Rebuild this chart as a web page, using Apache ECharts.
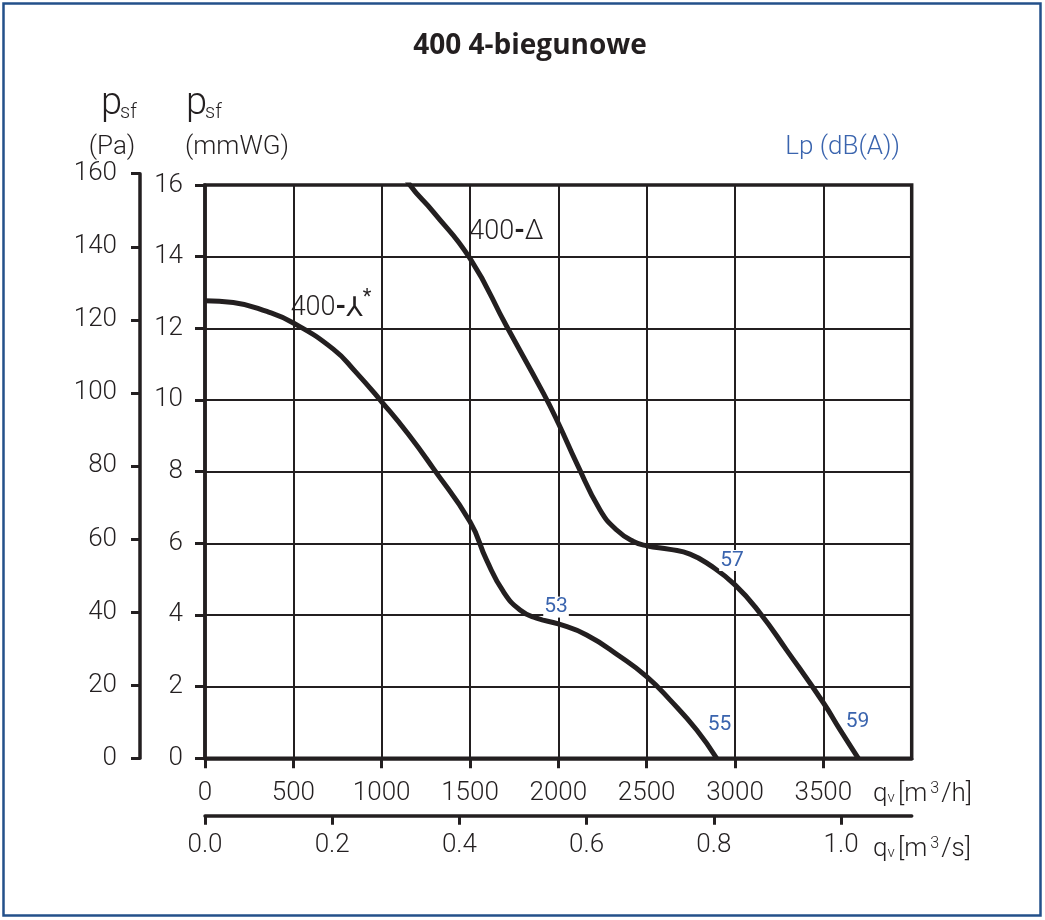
<!DOCTYPE html>
<html>
<head>
<meta charset="utf-8">
<script src="https://cdn.jsdelivr.net/npm/echarts@6/dist/echarts.min.js"></script>
<style>
html,body{margin:0;padding:0;background:#fff;}
#c{width:1045px;height:920px;}
</style>
</head>
<body>
<div id="c"></div>
<script>
// ---- data (q in m3/h, p in mmWG) ----
var starQ = [0, 160, 350, 500, 726, 850, 1000, 1150, 1292, 1500, 1594, 1689, 1783, 1877, 2000, 2160, 2349, 2500, 2632, 2783, 2896];
var starP = [12.77, 12.72, 12.47, 12.15, 11.42, 10.8, 9.95, 9.05, 8.09, 6.6, 5.53, 4.65, 4.14, 3.91, 3.75, 3.44, 2.84, 2.28, 1.63, 0.79, 0];
var deltaQ = [1080, 1160, 1292, 1500, 1708, 1915, 2000, 2104, 2236, 2330, 2425, 2500, 2632, 2745, 2858, 3000, 3142, 3292, 3500, 3594, 3698];
var deltaP = [16.7, 16.0, 15.25, 13.95, 12.05, 10.19, 9.35, 8.23, 6.93, 6.37, 6.05, 5.93, 5.83, 5.7, 5.39, 4.84, 4.05, 3.02, 1.55, 0.8, 0];
var lpText = ['53', '57', '55', '59'];
var lpQ = [1987, 2983, 2912, 3693];
var lpP = [4.22, 5.52, 0.94, 1.03];
var nameText = ['delta', 'star'];
var nameQ = [1706, 713];
var nameP = [14.67, 12.55];
var qhTicks = [0, 500, 1000, 1500, 2000, 2500, 3000, 3500];
var qsTicks = [0, 0.2, 0.4, 0.6, 0.8, 1.0];
var qMax = 4000;
var pMaxMm = 16;
var paMax = 160;
var PA_PER_MM = 9.80665;

function zip(a, b) { return a.map(function (v, i) { return [v, b[i]]; }); }

var INK = '#231f20';
var BLUE = '#3a64ae';
var FONT = 'Roboto';

var gLeft = 205, gTop = 185, gRight = 911.7, gBottom = 758.3;
var pxPerMm = (gBottom - gTop) / pMaxMm;
var paHeight = (paMax / PA_PER_MM) * pxPerMm;

var chart = echarts.init(document.getElementById('c'), null, {renderer: 'canvas'});

var labelStyle = {fontFamily: FONT, fontSize: 26, fontWeight: 300, color: INK};
function plain(v) { return String(v); }

var option = {
  backgroundColor: '#fff',
  animation: false,
  grid: [
    {left: gLeft, top: gTop, width: gRight - gLeft, height: gBottom - gTop, show: true,
     borderColor: INK, borderWidth: 3.5, backgroundColor: 'transparent'},
    {left: 140, top: gBottom - paHeight, width: 10, height: paHeight, show: false}
  ],
  xAxis: [
    {gridIndex: 0, type: 'value', min: 0, max: qMax, interval: 500, position: 'bottom',
     axisLine: {show: true, onZero: false, lineStyle: {color: INK, width: 3.5}},
     axisTick: {show: true, length: 10, customValues: qhTicks, lineStyle: {color: INK, width: 3}},
     axisLabel: Object.assign({margin: 22, customValues: qhTicks, formatter: plain}, labelStyle),
     splitLine: {show: true, lineStyle: {color: INK, width: 2}}},
    {gridIndex: 0, type: 'value', min: 0, max: qMax / 3600, position: 'bottom', offset: 57.4,
     axisLine: {show: true, onZero: false, lineStyle: {color: INK, width: 3.5}},
     axisTick: {show: true, length: 9, customValues: qsTicks, lineStyle: {color: INK, width: 3}},
     axisLabel: Object.assign({margin: 17, customValues: qsTicks, formatter: function (v) { return v.toFixed(1); }}, labelStyle),
     splitLine: {show: false}},
    {gridIndex: 1, type: 'value', min: 0, max: 1, show: false}
  ],
  yAxis: [
    {gridIndex: 0, type: 'value', min: 0, max: pMaxMm, interval: 2,
     axisLine: {show: true, onZero: false, lineStyle: {color: INK, width: 3.5}},
     axisTick: {show: true, length: 10, lineStyle: {color: INK, width: 3}},
     axisLabel: Object.assign({margin: 22, formatter: plain}, labelStyle),
     splitLine: {show: true, lineStyle: {color: INK, width: 2}}},
    {gridIndex: 1, type: 'value', min: 0, max: paMax, interval: 20,
     axisLine: {show: true, onZero: false, lineStyle: {color: INK, width: 3.5}},
     axisTick: {show: true, length: 9, lineStyle: {color: INK, width: 3}},
     axisLabel: Object.assign({margin: 23, formatter: plain}, labelStyle),
     splitLine: {show: false}}
  ],
  series: [
    {type: 'line', xAxisIndex: 0, yAxisIndex: 0, data: zip(starQ, starP), smooth: 0.5,
     showSymbol: false, clip: true, lineStyle: {color: INK, width: 5}, z: 5},
    {type: 'line', xAxisIndex: 0, yAxisIndex: 0, data: zip(deltaQ, deltaP), smooth: 0.5,
     showSymbol: false, clip: true, lineStyle: {color: INK, width: 5}, z: 5},
    {type: 'scatter', xAxisIndex: 0, yAxisIndex: 0, symbolSize: 0, z: 6, itemStyle: {opacity: 1},
     data: lpText.map(function (t, i) { return {name: t, value: [lpQ[i], lpP[i]]}; }),
     label: {show: true, position: 'inside', formatter: '{b}', fontFamily: FONT, fontWeight: 400, fontSize: 21,
             color: BLUE, backgroundColor: '#fff', padding: [0, 1, 0, 1]}},
    {type: 'scatter', xAxisIndex: 0, yAxisIndex: 0, symbolSize: 0, z: 6, itemStyle: {opacity: 1},
     data: nameText.map(function (t, i) { return {name: t, value: [nameQ[i], nameP[i]]}; }),
     label: {show: true, position: 'inside', color: INK,
             formatter: function (p) { return p.name === 'delta' ? '{a|400}{d|-}{a|Δ}' : '{a|400}{d|-}{y|⅄}{s|*}'; },
             rich: {
               a: {fontFamily: FONT, fontWeight: 300, fontSize: 27, color: INK},
               d: {fontFamily: FONT, fontWeight: 700, fontSize: 27, color: INK},
               y: {fontFamily: 'DejaVu Sans', fontSize: 27, color: INK},
               s: {fontFamily: FONT, fontSize: 20, color: INK, padding: [0, 0, 22, 0]}
             }}}
  ],
  graphic: [
    {type: 'rect', shape: {x: 3.5, y: 3.5, width: 1037, height: 912}, style: {fill: 'none', stroke: '#23508a', lineWidth: 2.5}, silent: true},
    {type: 'text', x: 530, y: 46, style: {text: '400 4-biegunowe', font: 'bold 28px "Open Sans"', fill: INK, align: 'center', verticalAlign: 'middle'}},
    {type: 'text', x: 101, y: 104, style: {text: 'p', font: '300 38px Roboto', fill: INK, align: 'left', verticalAlign: 'middle'}},
    {type: 'text', x: 120, y: 113, style: {text: 'sf', font: '300 20px Roboto', fill: INK, align: 'left', verticalAlign: 'middle'}},
    {type: 'text', x: 186, y: 104, style: {text: 'p', font: '300 38px Roboto', fill: INK, align: 'left', verticalAlign: 'middle'}},
    {type: 'text', x: 205, y: 113, style: {text: 'sf', font: '300 20px Roboto', fill: INK, align: 'left', verticalAlign: 'middle'}},
    {type: 'text', x: 112, y: 147, style: {text: '(Pa)', font: '300 26px Roboto', fill: INK, align: 'center', verticalAlign: 'middle'}},
    {type: 'text', x: 185, y: 147, style: {text: '(mmWG)', font: '300 26px Roboto', fill: INK, align: 'left', verticalAlign: 'middle'}},
    {type: 'text', x: 900, y: 147, style: {text: 'Lp (dB(A))', font: '300 26px Roboto', fill: BLUE, align: 'right', verticalAlign: 'middle'}},
    {type: 'text', x: 873, y: 794, style: {text: '{q|q}{v|v} {a|[m}{c|3}{a|/h]}', align: 'left', verticalAlign: 'middle',
      rich: {q: {font: '300 26px Roboto', fill: INK}, v: {font: '300 15px Roboto', fill: INK, padding: [8, 0, 0, 0]},
             a: {font: '300 26px Roboto', fill: INK}, c: {font: '300 16px Roboto', fill: INK, padding: [0, 2, 10, 3]}}}},
    {type: 'text', x: 873, y: 849, style: {text: '{q|q}{v|v} {a|[m}{c|3}{a|/s]}', align: 'left', verticalAlign: 'middle',
      rich: {q: {font: '300 26px Roboto', fill: INK}, v: {font: '300 15px Roboto', fill: INK, padding: [8, 0, 0, 0]},
             a: {font: '300 26px Roboto', fill: INK}, c: {font: '300 16px Roboto', fill: INK, padding: [0, 2, 10, 3]}}}}
  ]
};
chart.setOption(option);
</script>
</body>
</html>
